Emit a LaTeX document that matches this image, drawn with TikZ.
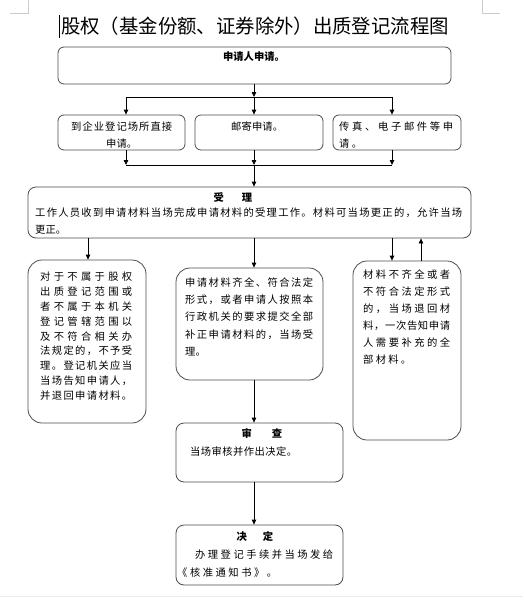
\documentclass[tikz,border=0pt]{standalone}
\usepackage{fontspec}
\newfontfamily\cjk{Noto Sans CJK SC}
\usetikzlibrary{arrows.meta}
\def\sprA#1{\ifx#1\relax\else#1\expandafter\sprB\fi}
\def\sprB#1{\ifx#1\relax\else\hfil#1\expandafter\sprB\fi}
\newcommand\spr[2]{\hbox to #1{\sprA#2\relax}}
\begin{document}
\begin{tikzpicture}[x=1pt,y=-1pt,
  box/.style={draw=black!70,line width=0.8pt},
  txt/.style={inner sep=0pt,anchor=west,font=\cjk\fontsize{10.3}{10}\selectfont},
  ttl/.style={inner sep=0pt,font=\cjk\bfseries\fontsize{10.3}{10}\selectfont},
  arr/.style={line width=0.8pt,-{Triangle[length=5pt,width=4.5pt]}},
  ln/.style={line width=0.8pt},
  pagemark/.style={draw=black!20,line width=0.6pt}]
\useasboundingbox (0,0) rectangle (523,600);
% page marks
\draw[pagemark] (10,13) -- (28,13) -- (28,0);
\draw[pagemark] (482,0) -- (482,13) -- (500,13);
\draw[draw=black!8,line width=0.8pt] (0,596) -- (523,596);
\draw[line width=0.8pt] (59,15) -- (59,38);
% title
\node[inner sep=0pt,font=\cjk\fontsize{19.4}{20}\selectfont] (title) at (255,26) {股权（基金份额、证券除外）出质登记流程图};
% box 1
\draw[box,rounded corners=6pt] (58,47) rectangle (451,84);
\node (b1) at (254.5,65.5) [minimum width=393pt,minimum height=37pt,inner sep=0pt] {};
\node[ttl] (t1) at (254,57) {申请人申请。};
\coordinate (spine) at (254,0);
\coordinate (xa) at (126,0);
\coordinate (xc) at (392,0);
\coordinate (j1) at (254,97);
\coordinate (j1a) at (126,97);
\coordinate (j1c) at (392,97);
\draw[arr] (b1.south -| spine) -- (j1);
\draw[ln] (j1a) -- (j1c);
% row 2 boxes
\node[box,rounded corners=6pt,minimum width=127pt,minimum height=35pt,inner sep=0pt] (bA) at (121.5,132.5) {};
\node[box,rounded corners=6pt,minimum width=128pt,minimum height=35pt,inner sep=0pt] (bB) at (259,132.5) {};
\node[box,rounded corners=6pt,minimum width=128pt,minimum height=35pt,inner sep=0pt] (bC) at (397,132.5) {};
\draw[arr] (j1a) -- (bA.north -| xa);
\draw[arr] (j1) -- (bB.north -| spine);
\draw[arr] (j1c) -- (bC.north -| xc);
\node[txt] (tA1) at (71,127) {\spr{101pt}{到企业登记场所直接}};
\node[txt] (tA2) at (106,144) {\spr{26pt}{申请。}};
\node[txt] (tB1) at (231,127) {\spr{52pt}{邮寄申请。}};
\node[txt] (tC1) at (339,127) {\spr{114pt}{传真、电子邮件等申}};
\node[txt] (tC2) at (339,144) {\spr{23pt}{请。}};
\coordinate (j2) at (254,165);
\coordinate (j2a) at (126,165);
\coordinate (j2c) at (392,165);
\draw[arr] (bA.south -| xa) -- (j2a);
\draw[arr] (bB.south -| spine) -- (j2);
\draw[arr] (bC.south -| xc) -- (j2c);
\draw[ln] (j2a) -- (j2c);
% shouli
\node[box,rounded corners=8pt,minimum width=443pt,minimum height=51pt,inner sep=0pt] (bS) at (249.5,212.5) {};
\draw[arr] (j2) -- (bS.north -| spine);
\node[ttl] (tS0) at (233,197) {受\hspace{18pt}理};
\node[txt] (tS1) at (35,213) {\spr{427pt}{工作人员收到申请材料当场完成申请材料的受理工作。材料可当场更正的，允许当场}};
\node[txt] (tS2) at (35,230) {\spr{30pt}{更正。}};
% lower boxes
\node[box,rounded corners=14pt,minimum width=118pt,minimum height=163pt,inner sep=0pt] (bL) at (87,341.5) {};
\node[box,rounded corners=14pt,minimum width=147pt,minimum height=112pt,inner sep=0pt] (bM) at (249.5,324) {};
\node[box,rounded corners=14pt,minimum width=108pt,minimum height=179pt,inner sep=0pt] (bR) at (407,350.5) {};
\coordinate (xl) at (88,0);
\coordinate (xu) at (421,0);
\draw[arr] (bS.south -| xl) -- (bL.north -| xl);
\draw[arr] (bS.south -| spine) -- (bM.north -| spine);
\draw[arr] (bS.south -| xc) -- (bR.north -| xc);
\draw[arr] (bR.north -| xu) -- (bS.south -| xu);
\node[txt] (tL1) at (40,277.0) {\spr{92pt}{对于不属于股权}};
\node[txt] (tL2) at (40,291.8) {\spr{92pt}{出质登记范围或}};
\node[txt] (tL3) at (40,306.6) {\spr{92pt}{者不属于本机关}};
\node[txt] (tL4) at (40,321.4) {\spr{92pt}{登记管辖范围以}};
\node[txt] (tL5) at (40,336.2) {\spr{92pt}{及不符合相关办}};
\node[txt] (tL6) at (40,351.0) {\spr{92pt}{法规定的，不予受}};
\node[txt] (tL7) at (40,365.8) {\spr{92pt}{理。登记机关应当}};
\node[txt] (tL8) at (40,380.6) {\spr{92pt}{当场告知申请人，}};
\node[txt] (tL9) at (40,395.4) {\spr{92pt}{并退回申请材料。}};
\node[txt] (tM1) at (185,283) {\spr{128pt}{申请材料齐全、符合法定}};
\node[txt] (tM2) at (185,300) {\spr{128pt}{形式，或者申请人按照本}};
\node[txt] (tM3) at (185,317) {\spr{128pt}{行政机关的要求提交全部}};
\node[txt] (tM4) at (185,335) {\spr{128pt}{补正申请材料的，当场受}};
\node[txt] (tM5) at (185,352) {\spr{10pt}{理。}};
\node[txt] (tR1) at (363,275) {\spr{87pt}{材料不齐全或者}};
\node[txt] (tR2) at (363,292) {\spr{87pt}{不符合法定形式}};
\node[txt] (tR3) at (363,309) {\spr{87pt}{的，当场退回材}};
\node[txt] (tR4) at (363,326) {\spr{87pt}{料，一次告知申请}};
\node[txt] (tR5) at (363,343) {\spr{87pt}{人需要补充的全}};
\node[txt] (tR6) at (363,360) {\spr{48pt}{部材料。}};
% shencha
\node[box,rounded corners=8pt,minimum width=167pt,minimum height=59pt,inner sep=0pt] (bV) at (259.5,452.5) {};
\draw[arr] (bM.south -| spine) -- (bV.north -| spine);
\node[ttl] (tV0) at (262,433) {审\hspace{20pt}查};
\node[txt] (tV1) at (190,452) {\spr{107pt}{当场审核并作出决定。}};
% jueding
\node[box,rounded corners=8pt,minimum width=167pt,minimum height=60pt,inner sep=0pt] (bD) at (259.5,555) {};
\draw[arr] (bV.south -| spine) -- (bD.north -| spine);
\node[ttl] (tD0) at (255,537) {决\hspace{16pt}定};
\node[txt] (tD1) at (195,555) {\spr{138pt}{办理登记手续并当场发给}};
\node[txt] (tD2) at (177,573) {\spr{100pt}{《核准通知书》。}};
\end{tikzpicture}
\end{document}
